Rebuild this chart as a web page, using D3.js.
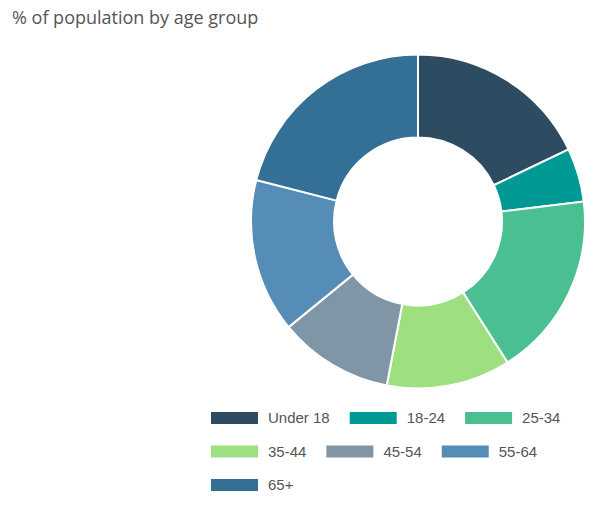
<!DOCTYPE html>
<html><head><meta charset="utf-8">
<script src="https://cdn.jsdelivr.net/npm/d3@7"></script>
<style>body{margin:0;background:#fff}svg{display:block}</style>
</head><body>
<svg id="chart" width="600" height="506"></svg>
<script>
const categories = ["Under 18","18-24","25-34","35-44","45-54","55-64","65+"];
const values = [17.9, 5.2, 17.9, 12.0, 11.1, 14.9, 21.0];
const colors = ["#2d4c61","#009994","#4abf91","#9ee07f","#8096a6","#558db6","#347096"];
const title = "% of population by age group";

const svg = d3.select("#chart");
svg.append("text").attr("x", 12).attr("y", 23.5)
  .attr("font-family", "'Open Sans', sans-serif").attr("font-size", 18)
  .attr("fill", "#555").text(title);

const cx = 418, cy = 221.5, R = 167, r = 84;
const data = categories.map((c,i)=>({cat:c, value:values[i], color:colors[i]}));
const pie = d3.pie().sort(null).value(d=>d.value);
const arc = d3.arc().innerRadius(r).outerRadius(R);
const g = svg.append("g").attr("transform", `translate(${cx},${cy})`);
g.selectAll("path").data(pie(data)).join("path")
  .attr("d", arc).attr("fill", d=>d.data.color)
  .attr("stroke", "#fff").attr("stroke-width", 2);

// legend
const lg = svg.append("g");
let x = 211, y = 412, maxX = 590;
data.forEach(d => {
  const item = lg.append("g");
  item.append("rect").attr("x", 0).attr("y", 0).attr("width", 47).attr("height", 12)
    .attr("fill", d.color);
  const t = item.append("text").attr("x", 57).attr("y", 11)
    .attr("font-family", "'Liberation Sans', Arial, sans-serif").attr("font-size", 15)
    .attr("fill", "#555").text(d.cat);
  const w = 57 + t.node().getComputedTextLength();
  if (x + w > maxX) { x = 211; y += 33.5; }
  item.attr("transform", `translate(${x},${y})`);
  x += w + 20;
});
</script>
</body></html>
